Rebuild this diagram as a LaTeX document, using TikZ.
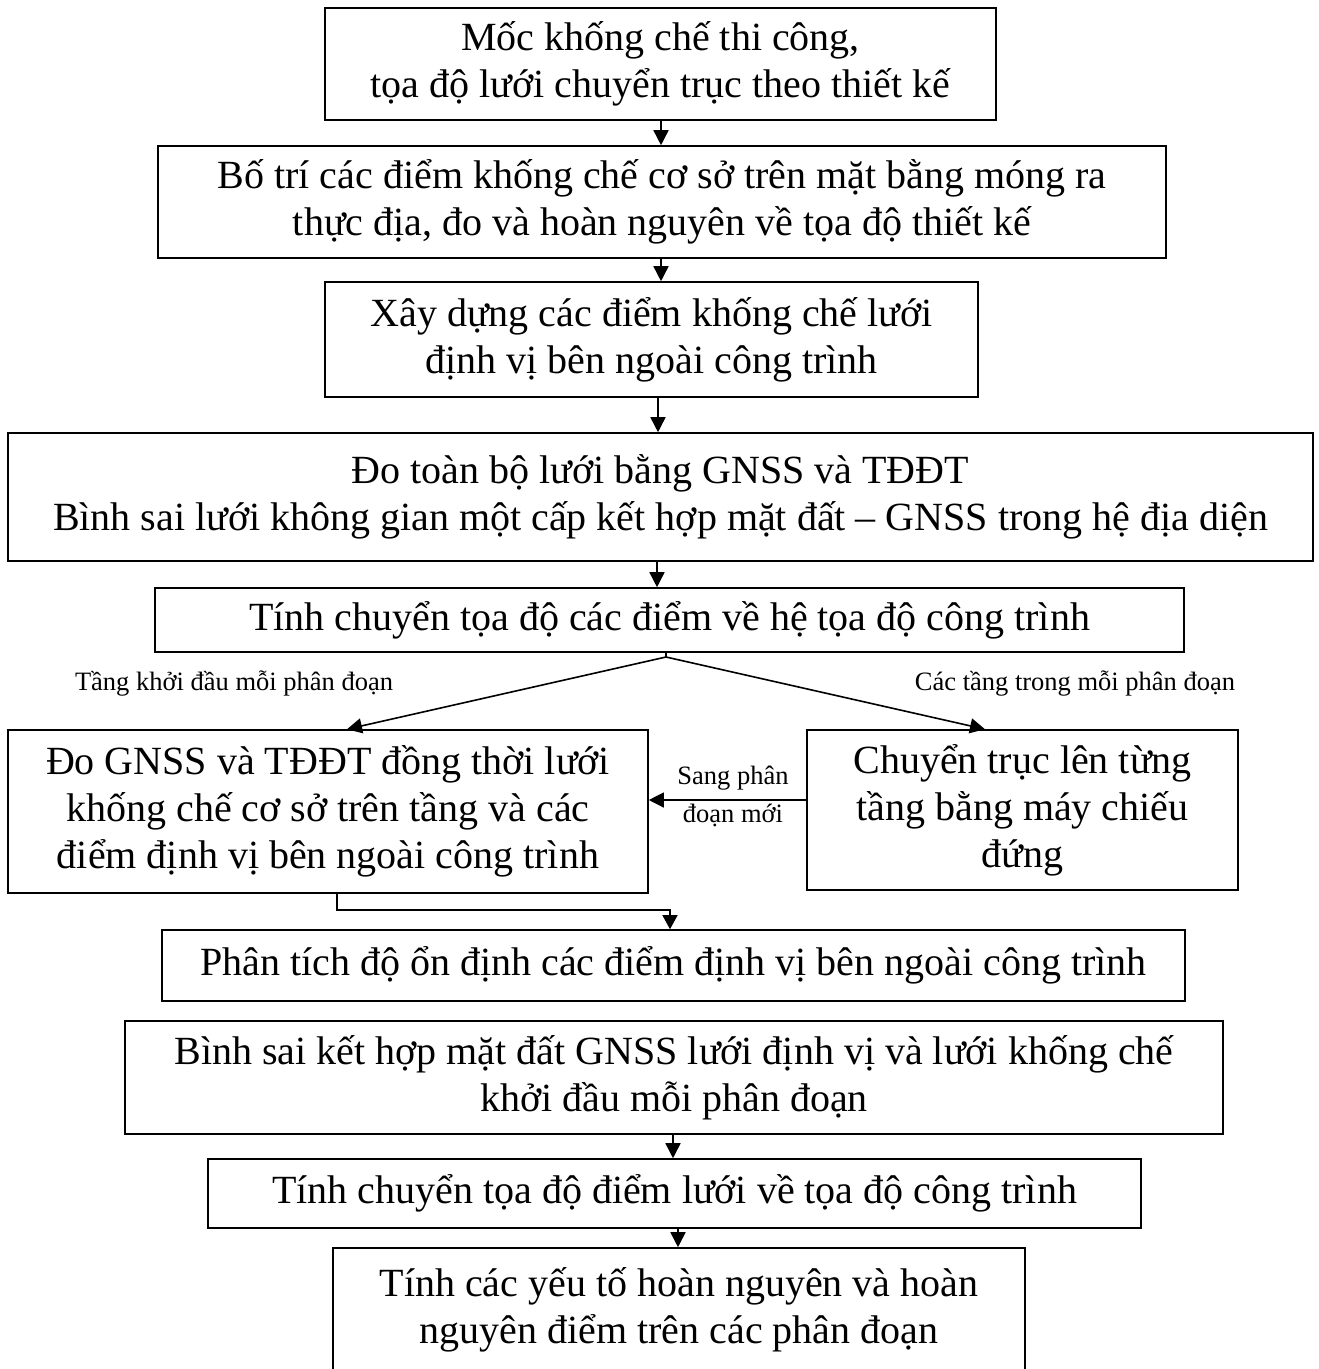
\documentclass[tikz,border=0pt]{standalone}
\usepackage{fontspec}
\setmainfont{Liberation Serif}
\usetikzlibrary{arrows.meta}
\begin{document}
\begin{tikzpicture}[x=1pt,y=-1pt,
  box/.style={draw,line width=1.6pt,align=center,inner sep=0pt,font=\fontsize{40}{47}\selectfont},
  lbl/.style={align=center,inner sep=0pt,font=\fontsize{26.5}{34}\selectfont},
  arr/.style={line width=1.6pt,-{Triangle[length=15pt,width=15pt]}},
  thin/.style={line width=1.3pt}]
\useasboundingbox (0,0) rectangle (1319,1369);
\node[box,minimum width=671pt,minimum height=112pt] (b1) at (660.5,64) {Mốc khống chế thi công,\\ tọa độ lưới chuyển trục theo thiết kế};
\node[box,minimum width=1008pt,minimum height=112pt] (b2) at (662,202) {Bố trí các điểm khống chế cơ sở trên mặt bằng móng ra\\thực địa, đo và hoàn nguyên về tọa độ thiết kế};
\node[box,minimum width=653pt,minimum height=115pt] (b3) at (651.5,339.5) {Xây dựng các điểm khống chế lưới\\định vị bên ngoài công trình};
\node[box,minimum width=1305pt,minimum height=128pt] (b4) at (660.5,497) {Đo toàn bộ lưới bằng GNSS và TĐĐT\\Bình sai lưới không gian một cấp kết hợp mặt đất – GNSS trong hệ địa diện};
\node[box,minimum width=1029pt,minimum height=64pt] (b5) at (669.5,620) {Tính chuyển tọa độ các điểm về hệ tọa độ công trình};
\node[box,minimum width=640pt,minimum height=163pt] (b6) at (328,811.5) {Đo GNSS và TĐĐT đồng thời lưới\\khống chế cơ sở trên tầng và các\\điểm định vị bên ngoài công trình};
\node[box,minimum width=431pt,minimum height=160pt] (b7) at (1022.5,810) {Chuyển trục lên từng\\tầng bằng máy chiếu\\đứng};
\node[box,minimum width=1023pt,minimum height=71pt] (b8) at (673.5,965.5) {Phân tích độ ổn định các điểm định vị bên ngoài công trình};
\node[box,minimum width=1098pt,minimum height=113pt] (b9) at (674,1077.5) {Bình sai kết hợp mặt đất GNSS lưới định vị và lưới khống chế\\khởi đầu mỗi phân đoạn};
\node[box,minimum width=933pt,minimum height=69pt] (b10) at (674.5,1193.5) {Tính chuyển tọa độ điểm lưới về tọa độ công trình};
\node[box,minimum width=692pt,minimum height=124pt] (b11) at (679,1310) {Tính các yếu tố hoàn nguyên và hoàn\\nguyên điểm trên các phân đoạn};
% labels
\node[lbl] (l1) at (234,684) {Tầng khởi đầu mỗi phân đoạn};
\node[lbl] (l2) at (1075,684) {Các tầng trong mỗi phân đoạn};
\node[lbl] (l3) at (733,778) {Sang phân};
\node[lbl] (l4) at (733,815) {đoạn mới};
% arrows
\draw[arr] (b1.south -| 661,0) -- (b2.north -| 661,0);
\draw[arr] (b2.south -| 661,0) -- (b3.north -| 661,0);
\draw[arr] (b3.south -| 658,0) -- (b4.north -| 658,0);
\draw[arr] (b4.south -| 657,0) -- (b5.north -| 657,0);
\coordinate (sp) at (666,657);
\draw[line width=1.6pt] (b5.south -| 666,0) -- (sp);
\draw[arr] (sp) -- (b6.north -| 347,0);
\draw[arr] (sp) -- (b7.north -| 985,0);
\draw[thin,-{Triangle[length=15pt,width=15pt]}] (b7.west |- 0,800) -- (b6.east |- 0,800);
\coordinate (c1) at (337,910);
\coordinate (c2) at (670,910);
\draw[thin,-{Triangle[length=14pt,width=15pt]}] (b6.south -| c1) -- (c1) -- (c2) -- (b8.north -| c2);
\draw[arr] (b9.south -| 673,0) -- (b10.north -| 673,0);
\draw[arr] (b10.south -| 678,0) -- (b11.north -| 678,0);
\end{tikzpicture}
\end{document}
